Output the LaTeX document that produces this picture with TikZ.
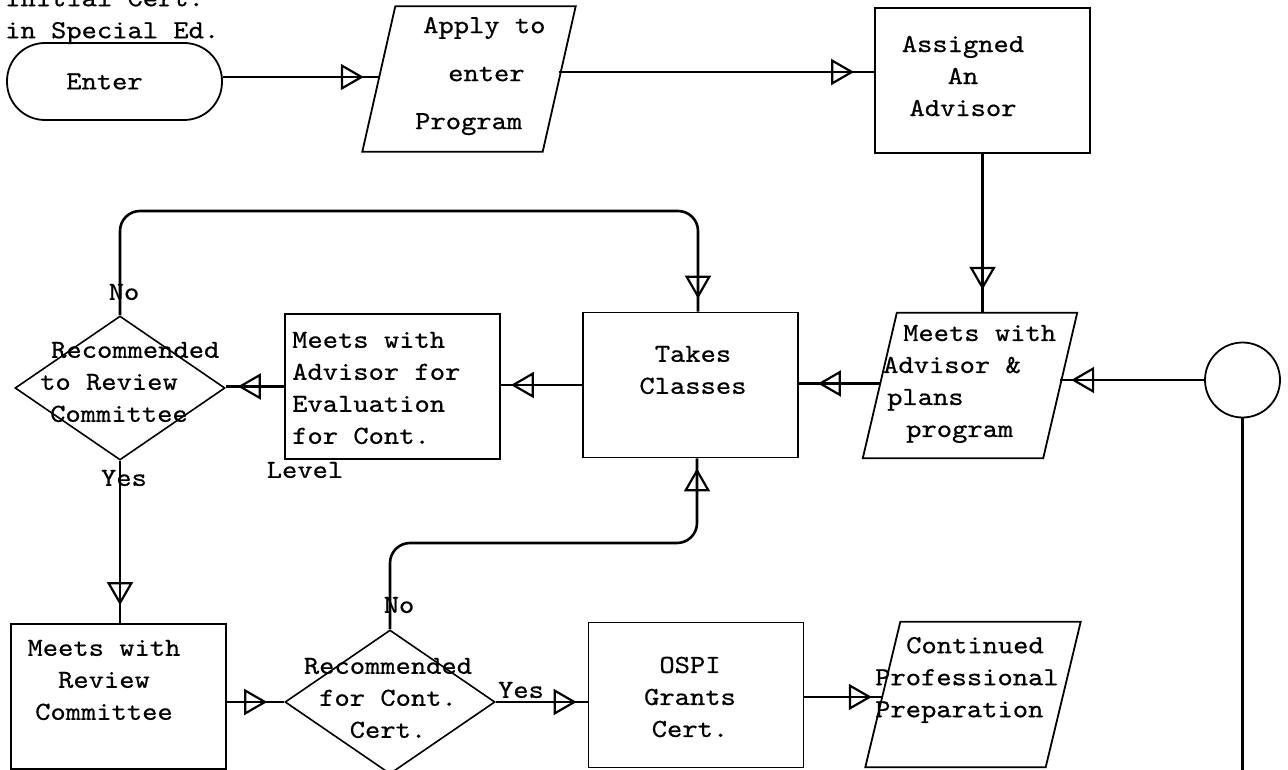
\documentclass[tikz,border=0pt]{standalone}
\usepackage{fontspec}
\setmonofont{lmmono10-regular.otf}[FakeStretch=1.12,FakeBold=0.6]
\usetikzlibrary{arrows.meta,shapes.geometric,calc,decorations.markings}
\begin{document}
\begin{tikzpicture}[x=1pt,y=-1pt,
  every node/.style={font=\fontsize{26}{32}\selectfont\ttfamily},
  box/.style={draw, line width=1.8pt, minimum width=215pt, minimum height=145pt, inner sep=0pt},
  helper/.style={inner sep=0pt, minimum width=180pt, minimum height=145pt},
  shp/.style={line width=1.8pt, line join=miter},
  dia/.style={draw, shape=diamond, line width=1.6pt, inner sep=0pt, minimum width=210pt, minimum height=144pt, aspect=1.46},
  txt/.style={align=left, inner sep=0pt, anchor=west},
  ctxt/.style={align=center, inner sep=0pt},
  plain/.style={line width=2.6pt},
  conn/.style={line width=2.6pt,
    postaction={decorate, decoration={markings,
      mark=at position -#1 with {\arrow[line width=2.2pt]{Triangle[open,length=23pt,width=26pt]}}}}},
  conn/.default=12pt]
\path[use as bounding box] (0,0) rectangle (1288,770);

% ---- shapes ----
\node[draw, line width=1.8pt, rounded corners=38pt, minimum width=215pt, minimum height=77pt, inner sep=0pt] (enter) at (114.5,81.5) {Enter\hspace*{20pt}};
\node[helper] (apply) at (469,79) {};
\draw[shp] ([xshift=16.5pt]apply.north west) -- ([xshift=16.5pt]apply.north east) -- ([xshift=-16.5pt]apply.south east) -- ([xshift=-16.5pt]apply.south west) -- cycle;
\node[box] (assigned) at (982.5,80.5) {};
\node[helper] (plans) at (970,385.5) {};
\draw[shp] ([xshift=17pt]plans.north west) -- ([xshift=17pt]plans.north east) -- ([xshift=-17pt]plans.south east) -- ([xshift=-17pt]plans.south west) -- cycle;
\node[draw, circle, line width=1.8pt, minimum size=75pt, inner sep=0pt] (circ) at (1242.5,380) {};
\node[box] (takes) at (690.5,385) {};
\node[box] (eval) at (392.5,386.5) {};
\node[dia] (d1) at (120,388) {};
\node[box] (review) at (118.5,696.5) {};
\node[dia] (d2) at (390,702) {};
\node[box] (ospi) at (696,695) {};
\node[helper] (cont) at (973,694.5) {};
\draw[shp] ([xshift=17.5pt]cont.north west) -- ([xshift=17.5pt]cont.north east) -- ([xshift=-17.5pt]cont.south east) -- ([xshift=-17.5pt]cont.south west) -- cycle;

% ---- texts ----
\node[txt] (tinit) at (5,17) {Initial Cert.\\in Special Ed.};
\node[txt] (tapply) at (415,76) {\hspace*{8pt}Apply to\\[16pt]\hspace*{33pt}enter\\[16pt]Program};
\node[ctxt] (tassigned) at (963,76) {Assigned\\An\\Advisor};
\node[txt] (tplans) at (883,384) {\hspace*{20pt}Meets with\\Advisor \&\\\hspace*{4pt}plans\\\hspace*{23pt}program};
\node[ctxt] (ttakes) at (693,370) {Takes\\Classes};
\node[txt] (teval) at (292,388) {Meets with\\Advisor for\\Evaluation\\for Cont.};
\node[ctxt] (tlevel) at (305,470) {Level};
\node[txt] (td1) at (40,382) {\hspace*{11pt}Recommended\\to Review\\\hspace*{10pt}Committee};
\node[ctxt] (tno1) at (124,292) {No};
\node[ctxt] (tyes1) at (124,478) {Yes};
\node[ctxt] (treview) at (104,680) {Meets with\\Review\\Committee};
\node[ctxt] (td2) at (388,698) {Recommended\\for Cont.\\Cert.};
\node[ctxt] (tno2) at (399,605) {No};
\node[ctxt] (tyes2) at (521,690) {Yes};
\node[ctxt] (tospi) at (690,697) {OSPI\\Grants\\Cert.};
\node[txt] (tcont) at (875,680) {\hspace*{31pt}Continued\\Professional\\Preparation};

% ---- connectors ----
\coordinate (lp1) at (698,211);
\coordinate (lp2) at (697,543);
\coordinate (cbot) at (1248,775);
\draw[conn=15pt] ([yshift=4.5pt]enter.east) -- ([yshift=4.5pt]enter.east -| apply.west);
\draw[conn=20pt] ([yshift=7pt]apply.east) -- ([yshift=7pt]apply.east -| assigned.west);
\draw[conn=23pt] (assigned.south) -- (assigned.south |- plans.north);
\draw[conn=11pt] (circ.west) -- (circ.west -| plans.east);
\draw[plain] (circ.south) -- (circ.south |- cbot);
\draw[conn=19pt] ([yshift=2pt]plans.west) -- ([yshift=2pt]plans.west -| takes.east);
\draw[conn=10pt] (takes.west) -- (takes.west -| eval.east);
\draw[conn=12pt] (eval.west) -- (eval.west -| d1.east);
\draw[conn=13pt, rounded corners=20pt] (d1.north) |- (lp1) -- (lp1 |- takes.north);
\draw[conn=18pt] (d1.south) -- (d1.south |- review.north);
\draw[conn=17pt] ([yshift=-5.5pt]review.east) -- ([yshift=-5.5pt]review.east -| d2.west);
\draw[conn=10pt, rounded corners=20pt] (d2.north) |- (lp2) -- (lp2 |- takes.south);
\draw[conn=11pt] (d2.east) -- (d2.east -| ospi.west);
\draw[conn=11pt] ([yshift=-2pt]ospi.east) -- ([yshift=-2pt]ospi.east -| cont.west);
\end{tikzpicture}
\end{document}
